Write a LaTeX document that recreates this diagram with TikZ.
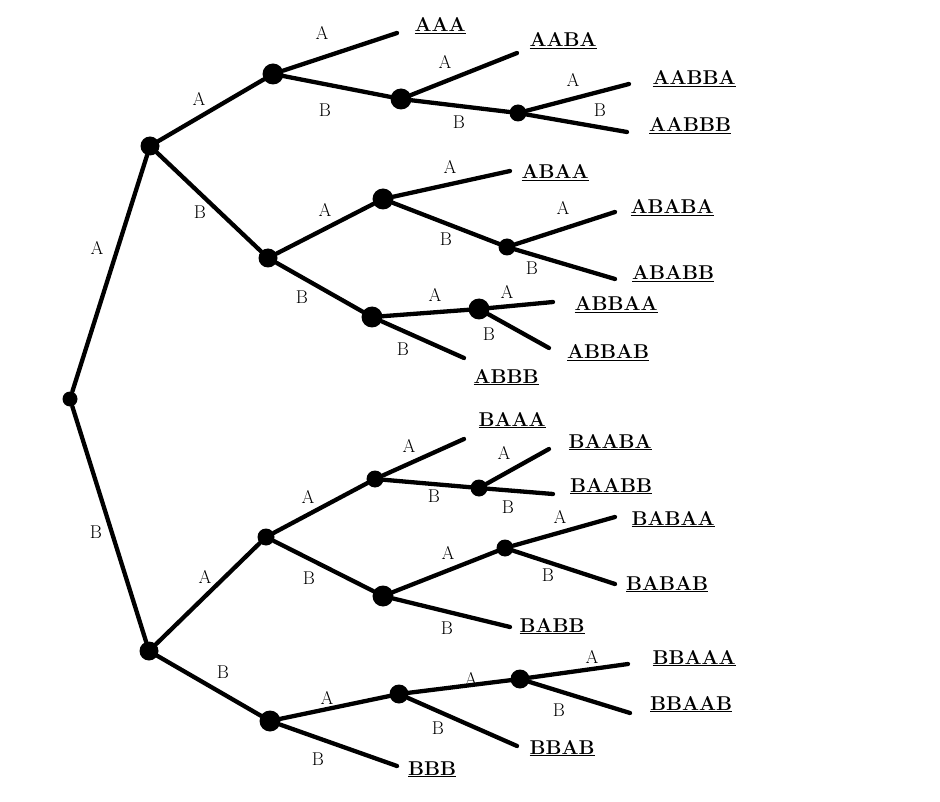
\documentclass[tikz,border=0pt]{standalone}
\usepackage{tikz}

\begin{document}
\begin{tikzpicture}[x=1pt,y=-1pt]

    % Define styles
    \tikzset{
        edge/.style={black, line width=4.3pt, line cap=round},
        rootdot/.style={circle, fill=black, inner sep=0pt, minimum size=15pt},
        dot/.style={circle, fill=black, inner sep=0pt, minimum size=17pt},
        middot/.style={circle, fill=black, inner sep=0pt, minimum size=19pt},
        bigdot/.style={circle, fill=black, inner sep=0pt, minimum size=21pt},
        lab/.style={inner sep=0pt, font=\fontsize{18.5}{20}\selectfont},
        leaf/.style={inner sep=0pt, anchor=base, font=\fontsize{20}{22}\selectfont\bfseries}
    }

    % Canvas
    \useasboundingbox (0,0) rectangle (940,802);

    % --- Branch points ---
    \node[rootdot] (r) at (70,399) {};
    \node[middot] (nA) at (150,146) {};
    \node[middot] (nB) at (149,651) {};
    \node[bigdot] (nAA) at (273,74) {};
    \node[middot] (nAB) at (268,258) {};
    \node[bigdot] (nAAB) at (401,99) {};
    \node[dot] (nAABB) at (518,113) {};
    \node[bigdot] (nABA) at (383,199) {};
    \node[dot] (nABAB) at (507,247) {};
    \node[bigdot] (nABB) at (372,317) {};
    \node[bigdot] (nABBA) at (479,309) {};
    \node[dot] (nBA) at (266,537) {};
    \node[bigdot] (nBB) at (270,721) {};
    \node[dot] (nBAA) at (375,479) {};
    \node[dot] (nBAAB) at (479,488) {};
    \node[bigdot] (nBAB) at (383,596) {};
    \node[dot] (nBABA) at (505,548) {};
    \node[middot] (nBBA) at (399,694) {};
    \node[middot] (nBBAA) at (520,679) {};

    % --- Leaves: end of line and underlined word ---
    \foreach \w/\ex/\ey/\tx/\ty in {
        AAA/397/33/440/32, AABA/517/53/563/47, AABBA/629/84/694/85,
        AABBB/627/132/690/132, ABAA/510/171/555/179, ABABA/615/212/672/214,
        ABABB/615/279/673/280, ABBAA/553/302/616/311, ABBAB/549/348/608/359,
        ABBB/464/358/506/383, BAAA/464/439/512/426, BAABA/549/449/610/448,
        BAABB/553/494/611/492, BABAA/615/517/673/525, BABAB/615/584/667/590,
        BABB/510/627/552/632, BBAAA/628/664/694/664, BBAAB/630/713/691/710,
        BBAB/517/746/562/754, BBB/397/766/432/775} {
        \coordinate (e\w) at (\ex,\ey);
        \node[leaf] (t\w) at (\tx,\ty) {\underline{\w}};
    }

    % --- Connectors ---
    \foreach \a/\b in {r/nA, r/nB, nA/nAA, nA/nAB, nAA/eAAA, nAA/nAAB,
        nAAB/eAABA, nAAB/nAABB, nAABB/eAABBA, nAABB/eAABBB,
        nAB/nABA, nAB/nABB, nABA/eABAA, nABA/nABAB, nABAB/eABABA, nABAB/eABABB,
        nABB/nABBA, nABB/eABBB, nABBA/eABBAA, nABBA/eABBAB,
        nB/nBA, nB/nBB, nBA/nBAA, nBA/nBAB, nBAA/eBAAA, nBAA/nBAAB,
        nBAAB/eBAABA, nBAAB/eBAABB, nBAB/nBABA, nBAB/eBABB,
        nBABA/eBABAA, nBABA/eBABAB, nBB/nBBA, nBB/eBBB,
        nBBA/nBBAA, nBBA/eBBAB, nBBAA/eBBAAA, nBBAA/eBBAAB} {
        \draw[edge] (\a) -- (\b);
    }

    % --- Edge letters ---
    \foreach \nm/\x/\y/\t in {
        rA/97/248/A, rB/96/532/B, A1/199/99/A, B1/200/212/B,
        AAa/322/33/A, AAb/325/110/B, AABa/445/62/A, AABb/459/122/B,
        AABBa/573/80/A, AABBb/600/110/B, ABa/325/210/A, ABb/302/297/B,
        ABAa/450/167/A, ABAb/446/239/B, ABABa/563/208/A, ABABb/532/268/B,
        ABBa/435/295/A, ABBb/403/349/B, ABBAa/507/292/A, ABBAb/489/334/B,
        BAl/205/577/A, BBl/223/672/B, BAa/308/497/A, BAb/309/578/B,
        BAAa/409/446/A, BAAb/434/496/B, BAABa/504/453/A, BAABb/508/507/B,
        BABa/448/553/A, BABb/447/628/B, BABAa/560/517/A, BABAb/548/575/B,
        BBa/327/698/A, BBb/318/759/B, BBAa/471/679/A, BBAb/438/728/B,
        BBAAa/592/657/A, BBAAb/559/710/B} {
        \node[lab] (l\nm) at (\x,\y) {\t};
    }

\end{tikzpicture}
\end{document}
